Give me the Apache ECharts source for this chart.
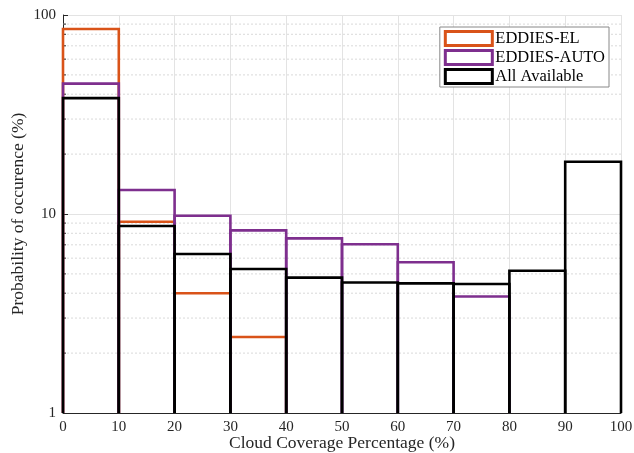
<!DOCTYPE html>
<html><head><meta charset="utf-8">
<script src="https://cdn.jsdelivr.net/npm/echarts@6/dist/echarts.min.js"></script>
<style>html,body{margin:0;padding:0;background:#fff}#c{width:634px;height:453px}</style>
</head><body><div id="c"></div>
<script>
const binEdges = [0,10,20,30,40,50,60,70,80,90,100];
const xTicks = [0,10,20,30,40,50,60,70,80,90,100];
const yMinorTicks = [2,3,4,5,6,7,8,9,20,30,40,50,60,70,80,90];
const seriesNames = ['EDDIES-EL','EDDIES-AUTO','All Available'];
const eddiesEL   = [85, 9.15, 4.0, 2.41, 0, 0, 0, 0, 0, 0];
const eddiesAUTO = [45.2, 13.2, 9.8, 8.27, 7.54, 7.05, 5.72, 3.85, 0, 0];
const allAvail   = [38.2, 8.7, 6.3, 5.29, 4.79, 4.53, 4.48, 4.45, 5.19, 18.3];
const colors = ['#D95319','#7E2F8E','#000000'];
const Y_MIN = 1, Y_MAX = 100;
const FONT = "'Liberation Serif', 'DejaVu Serif', serif";

function binData(vals){
  const out = [];
  for (let i=0;i<vals.length;i++) if (vals[i] > 0) out.push([binEdges[i], binEdges[i+1], vals[i]]);
  return out;
}
function barSeries(name, vals, color, z){
  return {
    name, type:'custom', z,
    data: binData(vals),
    encode:{x:[0,1], y:2},
    itemStyle:{color:'transparent', borderColor:color, borderWidth:2.6},
    renderItem(params, api){
      const x0 = api.value(0), x1 = api.value(1), v = api.value(2);
      const pt = api.coord([x0, v]);
      const pr = api.coord([x1, v]);
      const pb = api.coord([x0, Y_MIN]);
      return {type:'polyline', shape:{points:[[pt[0],pb[1]],[pt[0],pt[1]],[pr[0],pr[1]],[pr[0],pb[1]]]},
        style:{fill:null, stroke:color, lineWidth:2.6, lineJoin:'miter'}};
    }
  };
}
const minorSeries = {
  type:'custom', z:1, silent:true,
  data: yMinorTicks.map(v=>[0, v]),
  encode:{x:0, y:1},
  renderItem(params, api){
    const v = api.value(1);
    const a = api.coord([0, v]);
    const b = api.coord([100, v]);
    return {type:'group', children:[
      {type:'line', shape:{x1:a[0], y1:a[1], x2:b[0], y2:b[1]}, style:{stroke:'#d9d9d9', lineWidth:1, lineDash:[2,2]}},
      {type:'line', z2:100, shape:{x1:a[0], y1:a[1], x2:a[0]+3, y2:a[1]}, style:{stroke:'#262626', lineWidth:1}}
    ]};
  }
};

const chart = echarts.init(document.getElementById('c'), null, {renderer:'canvas'});
chart.setOption({
  animation:false,
  backgroundColor:'#fff',
  grid:{left:63, right:13, top:15, bottom:40, containLabel:false, outerBoundsMode:'none'},
  legend:{
    orient:'vertical', right:25, top:27, icon:'rect',
    itemWidth:47, itemHeight:14, itemGap:2,
    padding:[3,4,2,4],
    backgroundColor:'#fff', borderColor:'#888', borderWidth:1, borderRadius:0,
    textStyle:{fontFamily:FONT, fontSize:16.5, lineHeight:16, color:'#000', padding:[0,0,0,-2]},
    data: seriesNames.map((n,i)=>({name:n, itemStyle:{color:'transparent', borderColor:colors[i], borderWidth:3}}))
  },
  xAxis:{
    type:'value', min:0, max:100, interval:10,
    name:'Cloud Coverage Percentage (%)', nameLocation:'middle', nameGap:21, nameMoveOverlap:false,
    nameTextStyle:{fontFamily:FONT, fontSize:17.5, color:'#262626'},
    axisLine:{show:true, lineStyle:{color:'#262626', width:1}},
    axisTick:{show:true, inside:true, length:5, lineStyle:{color:'#262626'}},
    axisLabel:{fontFamily:FONT, fontSize:15, color:'#262626', margin:7,
      formatter:v=> xTicks.includes(v) ? String(v) : ''},
    splitLine:{show:true, lineStyle:{color:'#e3e3e3', width:1}}
  },
  yAxis:{
    type:'log', logBase:10, min:Y_MIN, max:Y_MAX,
    name:'Probability of occurence (%)', nameLocation:'middle', nameGap:36, nameMoveOverlap:false,
    nameTextStyle:{fontFamily:FONT, fontSize:17.5, color:'#262626'},
    axisLine:{show:true, lineStyle:{color:'#262626', width:1}},
    axisTick:{show:true, inside:true, length:5, lineStyle:{color:'#262626'}},
    axisLabel:{fontFamily:FONT, fontSize:15, color:'#262626', margin:7},
    splitLine:{show:true, lineStyle:{color:'#e3e3e3', width:1}}
  },
  series:[
    minorSeries,
    barSeries(seriesNames[0], eddiesEL, colors[0], 2),
    barSeries(seriesNames[1], eddiesAUTO, colors[1], 3),
    barSeries(seriesNames[2], allAvail, colors[2], 4)
  ]
});
</script></body></html>
